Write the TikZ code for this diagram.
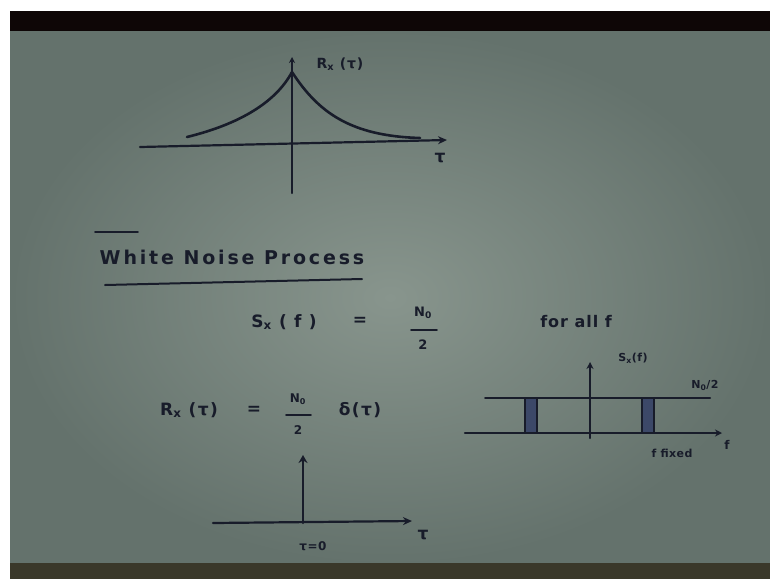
\documentclass[tikz,border=0pt]{standalone}
\usepackage{fontspec}
\setmainfont{DejaVu Sans}
\usetikzlibrary{arrows.meta}
\definecolor{ink}{RGB}{24,28,42}
\definecolor{hatch}{RGB}{60,72,104}
\definecolor{paperlight}{RGB}{136,149,141}
\definecolor{paperdark}{RGB}{100,114,108}
\definecolor{bandtop}{RGB}{14,6,6}
\definecolor{bandbot}{RGB}{58,56,42}
\tikzset{
  txt/.style={text=ink, inner sep=0pt, font=\fontsize{17}{19}\selectfont\bfseries\addfontfeature{LetterSpace=8}},
  small/.style={text=ink, inner sep=0pt, font=\fontsize{11}{12}\selectfont\bfseries},
  pen/.style={draw=ink, line width=2.2pt, line cap=round},
  arr/.style={pen, -{Stealth[length=9pt,width=8pt]}},
  strip/.style={draw=ink, line width=1.4pt, fill=hatch}
}
\begin{document}
\begin{tikzpicture}[x=1pt,y=-1pt]
\useasboundingbox (0,0) rectangle (770,579);
% photo frame
\fill[white] (0,0) rectangle (770,579);
\shade[inner color=paperlight, outer color=paperdark] (10,30) rectangle (770,565);
\fill[bandtop] (10,11) rectangle (770,31);
\fill[bandbot] (10,563) rectangle (770,579);

% ---------- top plot ----------
\coordinate (taxL) at (140,147);
\coordinate (taxR) at (447,140);
\coordinate (tvB) at (292,193);
\coordinate (tvT) at (292,57);
\coordinate (cL) at (187,137);
\coordinate (cP) at (292,72);
\coordinate (cR) at (420,138);
\draw[arr] (taxL) -- (taxR);
\draw[pen, -{Stealth[length=6pt,width=6pt]}] (tvB) -- (tvT);
\draw[pen, line width=2.6pt] (cL) .. controls (240,124) and (276,102) .. (cP);
\draw[pen, line width=2.6pt] (cP) .. controls (318,112) and (350,136) .. (cR);
\node[small, font=\fontsize{14}{15}\selectfont\bfseries\addfontfeature{LetterSpace=6}] (rlab) at (340,64) {R\textsubscript{x} (τ)};
\node[txt, font=\fontsize{17}{18}\selectfont\bfseries] (tau1) at (440,158) {τ};

% ---------- heading ----------
\node[txt, font=\fontsize{19}{21}\selectfont\bfseries\addfontfeature{LetterSpace=15}] (head) at (232,257) {White Noise Process};
\coordinate (olL) at (95,232);
\coordinate (olR) at (138,232);
\coordinate (ulL) at (105,285);
\coordinate (ulR) at (362,279);
\draw[pen, line width=1.8pt] (olL) -- (olR);
\draw[pen, line width=2pt] (ulL) -- (ulR);

% ---------- S_x(f) = N0/2 for all f ----------
\node[txt] (sx) at (284,322) {S\textsubscript{x} ( f )};
\node[txt] (eq1) at (360,321) {=};
\node[small, font=\fontsize{13}{14}\selectfont\bfseries] (n1) at (423,313) {N\textsubscript{0}};
\coordinate (b1L) at (411,330);
\coordinate (b1R) at (437,330);
\draw[pen, line width=1.8pt] (b1L) -- (b1R);
\node[small, font=\fontsize{13}{14}\selectfont\bfseries] (two1) at (423,345) {2};
\node[txt, font=\fontsize{16}{17}\selectfont\bfseries\addfontfeature{LetterSpace=6}] (forall) at (576,322) {for all f};

% ---------- R_x(tau) = N0/2 delta(tau) ----------
\node[txt] (rx) at (189,410) {R\textsubscript{x} (τ)};
\node[txt] (eq2) at (254,410) {=};
\node[small, font=\fontsize{12}{13}\selectfont\bfseries] (n2) at (298,399) {N\textsubscript{0}};
\coordinate (b2L) at (286,415);
\coordinate (b2R) at (311,415);
\draw[pen, line width=1.8pt] (b2L) -- (b2R);
\node[small, font=\fontsize{12}{13}\selectfont\bfseries] (two2) at (298,430) {2};
\node[txt] (dt) at (360,410) {δ(τ)};

% ---------- right plot ----------
\coordinate (raxL) at (465,433);
\coordinate (raxR) at (722,433);
\coordinate (rtL) at (485,398);
\coordinate (rtR) at (710,398);
\coordinate (rvB) at (590,438);
\coordinate (rvT) at (590,362);
\draw[pen, line width=2pt] (rtL) -- (rtR);
\draw[arr, -{Stealth[length=7pt,width=7pt]}] (raxL) -- (raxR);
\draw[arr, -{Stealth[length=7pt,width=7pt]}] (rvB) -- (rvT);
\draw[strip] (525,398) rectangle (537,433);
\draw[strip] (642,398) rectangle (654,433);
\node[small, font=\fontsize{11}{12}\selectfont\bfseries\addfontfeature{LetterSpace=4}] (sxlab) at (633,358) {S\textsubscript{x}(f)};
\node[small, font=\fontsize{11}{12}\selectfont\bfseries\addfontfeature{LetterSpace=4}] (nlab) at (705,385) {N\textsubscript{0}/2};
\node[small, font=\fontsize{12}{13}\selectfont\bfseries] (flab) at (727,445) {f};
\node[small, font=\fontsize{11}{12}\selectfont\bfseries\addfontfeature{LetterSpace=4}] (ffix) at (672,453) {f fixed};

% ---------- bottom plot ----------
\coordinate (baxL) at (213,523);
\coordinate (baxR) at (412,521);
\coordinate (bvB) at (303,523);
\coordinate (bvT) at (303,455);
\draw[arr] (baxL) -- (baxR);
\draw[arr, -{Stealth[length=8pt,width=9pt]}] (bvB) -- (bvT);
\node[txt, font=\fontsize{17}{18}\selectfont\bfseries] (tau2) at (423,535) {τ};
\node[small, font=\fontsize{12}{13}\selectfont\bfseries\addfontfeature{LetterSpace=4}] (t0) at (313,546) {τ=0};
\end{tikzpicture}
\end{document}
